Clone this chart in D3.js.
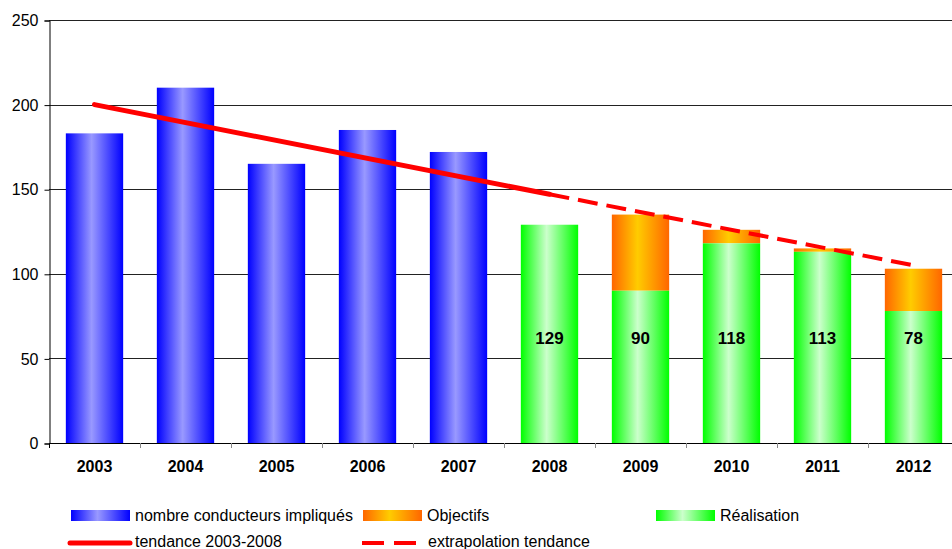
<!DOCTYPE html>
<html>
<head>
<meta charset="utf-8">
<script src="https://cdn.jsdelivr.net/npm/d3@7"></script>
<style>
  body { margin: 0; background: #fff; overflow: hidden; }
  text { font-family: "Liberation Sans", Arial, sans-serif; fill: #000; }
</style>
</head>
<body>
<div id="chart"></div>
<script>
// data
const years = ["2003", "2004", "2005", "2006", "2007", "2008", "2009", "2010", "2011", "2012"];
const impliques = [183, 210, 165, 185, 172, null, null, null, null, null];
const objectifs = [null, null, null, null, null, null, 135, 126, 115, 103];
const realisation = [null, null, null, null, null, 129, 90, 118, 113, 78];
const tendanceYears = ["2003", "2008"];
const tendanceValues = [200, 147];
const extrapYears = ["2008", "2012"];
const extrapValues = [147, 105];
const yTicks = [0, 50, 100, 150, 200, 250];

const W = 952, H = 549;
// plot area runs a little past the right edge, as in the original
const M = { top: 20, left: 49, right: -7, bottom: 106 };

const svg = d3.select("#chart").append("svg")
    .attr("width", W).attr("height", H);

// gradients (edge -> light centre -> edge)
const defs = svg.append("defs");
function grad(id, edge, mid) {
    const g = defs.append("linearGradient").attr("id", id)
        .attr("x1", "0%").attr("x2", "100%").attr("y1", "0%").attr("y2", "0%");
    g.append("stop").attr("offset", "0%").attr("stop-color", edge);
    g.append("stop").attr("offset", "45%").attr("stop-color", mid);
    g.append("stop").attr("offset", "100%").attr("stop-color", edge);
}
grad("gBlue", "#0000ff", "#9999ff");
grad("gOrange", "#ff6600", "#ffcc00");
grad("gGreen", "#00ff00", "#ccffcc");

const x = d3.scaleBand().domain(years)
    .range([M.left, W - M.right])
    .paddingInner(0.37).paddingOuter(0.185);
const y = d3.scaleLinear().domain([0, 250]).range([H - M.bottom, M.top]);
const step = x.step();
const cx = yr => x(yr) + x.bandwidth() / 2;

// gridlines
svg.append("g").selectAll("line").data(yTicks.filter(d => d > 0)).join("line")
    .attr("x1", M.left).attr("x2", W)
    .attr("y1", d => Math.round(y(d)) + 0.5).attr("y2", d => Math.round(y(d)) + 0.5)
    .attr("stroke", "#222").attr("stroke-width", 1);

// y axis
const yAxis = svg.append("g")
    .attr("transform", `translate(${M.left + 0.5},0.5)`)
    .call(d3.axisLeft(y).tickValues(yTicks).tickSize(5).tickPadding(6));
yAxis.select(".domain").attr("stroke", "#000");
yAxis.selectAll("text").style("font-size", "16px")
    .style("font-family", "Liberation Sans, Arial, sans-serif");

// blue bars
svg.append("g").selectAll("rect")
    .data(years.map((d, i) => ({ year: d, v: impliques[i] })).filter(d => d.v != null))
    .join("rect")
    .attr("x", d => x(d.year)).attr("width", x.bandwidth())
    .attr("y", d => y(d.v)).attr("height", d => y(0) - y(d.v))
    .attr("fill", "url(#gBlue)");

// orange (objectif) part above realisation
svg.append("g").selectAll("rect")
    .data(years.map((d, i) => ({ year: d, o: objectifs[i], r: realisation[i] })).filter(d => d.o != null))
    .join("rect")
    .attr("x", d => x(d.year)).attr("width", x.bandwidth())
    .attr("y", d => y(d.o)).attr("height", d => y(d.r) - y(d.o))
    .attr("fill", "url(#gOrange)");

// green bars
const real = years.map((d, i) => ({ year: d, v: realisation[i] })).filter(d => d.v != null);
svg.append("g").selectAll("rect").data(real).join("rect")
    .attr("x", d => x(d.year)).attr("width", x.bandwidth())
    .attr("y", d => y(d.v)).attr("height", d => y(0) - y(d.v))
    .attr("fill", "url(#gGreen)");

svg.append("g").selectAll("text").data(real).join("text")
    .attr("x", d => cx(d.year)).attr("y", y(62))
    .attr("dy", "0.35em")
    .attr("text-anchor", "middle")
    .style("font-size", "17px").style("font-weight", "bold")
    .text(d => d.v);

// x axis baseline + ticks between categories
svg.append("line")
    .attr("x1", M.left).attr("x2", W)
    .attr("y1", y(0) + 0.5).attr("y2", y(0) + 0.5)
    .attr("stroke", "#000");
svg.append("g").selectAll("line").data(d3.range(years.length + 1)).join("line")
    .attr("x1", i => Math.round(M.left + i * step) + 0.5)
    .attr("x2", i => Math.round(M.left + i * step) + 0.5)
    .attr("y1", y(0)).attr("y2", y(0) + 5)
    .attr("stroke", i => i === 0 ? "#000" : "#888");
svg.append("g").selectAll("text").data(years).join("text")
    .attr("x", d => cx(d)).attr("y", 472)
    .attr("text-anchor", "middle")
    .style("font-size", "16px").style("font-weight", "bold")
    .text(d => d);

// trend lines
const line = d3.line().x(d => cx(d[0])).y(d => y(d[1]));
svg.append("path")
    .datum(tendanceYears.map((d, i) => [d, tendanceValues[i]]))
    .attr("d", line).attr("fill", "none")
    .attr("stroke", "#ff0000").attr("stroke-width", 5).attr("stroke-linecap", "round");
svg.append("path")
    .datum(extrapYears.map((d, i) => [d, extrapValues[i]]))
    .attr("d", line).attr("fill", "none")
    .attr("stroke", "#ff0000").attr("stroke-width", 4).attr("stroke-dasharray", "20,9");

// legend
const leg = svg.append("g").style("font-size", "16px");
const swatches = [
    { x: 71, fill: "url(#gBlue)", label: "nombre conducteurs impliqués" },
    { x: 363, fill: "url(#gOrange)", label: "Objectifs" },
    { x: 656, fill: "url(#gGreen)", label: "Réalisation" }
];
swatches.forEach(s => {
    leg.append("rect").attr("x", s.x).attr("y", 510).attr("width", 59).attr("height", 11).attr("fill", s.fill);
    leg.append("text").attr("x", s.x + 64).attr("y", 521).text(s.label);
});
leg.append("line").attr("x1", 70).attr("x2", 130).attr("y1", 543).attr("y2", 543)
    .attr("stroke", "#ff0000").attr("stroke-width", 5).attr("stroke-linecap", "round");
leg.append("text").attr("x", 135).attr("y", 547).text("tendance 2003-2008");
leg.append("line").attr("x1", 362).attr("x2", 416).attr("y1", 543).attr("y2", 543)
    .attr("stroke", "#ff0000").attr("stroke-width", 4).attr("stroke-dasharray", "22,10");
leg.append("text").attr("x", 428).attr("y", 547).text("extrapolation tendance");
</script>
</body>
</html>
